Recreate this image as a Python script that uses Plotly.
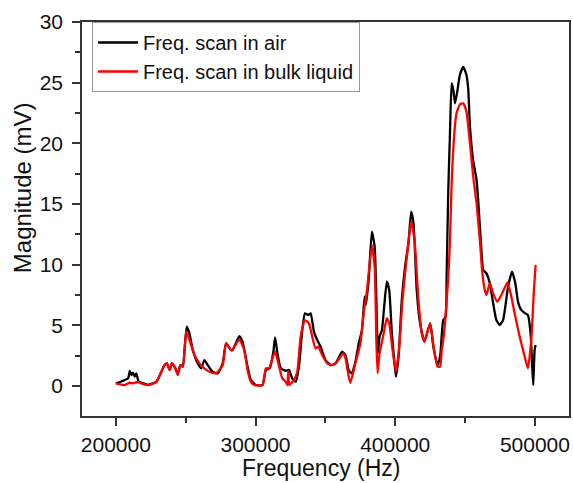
import plotly.graph_objects as go

# Frequency scan in air (black)
air_freq = [200000, 205200, 208800, 210000, 211200, 212300, 213500, 214700, 216400, 219500,
            223000, 229000, 234900, 236600, 238500, 240100, 242000, 244400, 246300, 248000,
            249200, 250800, 252700, 255100, 258600, 261100, 263400, 265800, 269300, 272900,
            276500, 278900, 282400, 283600, 288400, 290700, 294300, 296700, 300300, 305000,
            307400, 310200, 312800, 314000, 315700, 318100, 321600, 324000, 326300, 328800,
            331100, 333500, 335400, 337800, 339500, 341800, 344200, 346600, 350100, 353700,
            357300, 362000, 364400, 366700, 368700, 371500, 373900, 376200, 378100, 379000,
            381000, 383300, 385300, 386900, 387600, 388800, 390500, 392200, 394000, 395700,
            397600, 399500, 400500, 402400, 404700, 407200, 409500, 411400, 413100, 415400,
            417800, 420900, 425000, 427300, 430200, 432100, 434400, 436100, 436800, 438000,
            439200, 440400, 441600, 442800, 444600, 446300, 448700, 451000, 452300, 453500,
            455800, 458200, 459400, 461700, 463000, 465300, 467700, 470100, 472400, 474800,
            477200, 480800, 483600, 486000, 487900, 490200, 493100, 495000, 496900, 498100,
            498800, 499800, 500500]
air_mag = [0.22, 0.44, 0.63, 1.24, 0.9, 1.1, 0.77, 1.05, 0.35, 0.22,
           0.1, 0.35, 1.73, 1.87, 1.32, 1.87, 1.6, 1.05, 1.73, 1.6,
           2.97, 4.89, 4.34, 2.97, 1.87, 1.46, 2.14, 1.73, 1.18, 1.05,
           1.87, 3.52, 2.97, 2.97, 4.12, 3.65, 1.6, 0.5, 0.08, 0.08,
           1.32, 1.46, 2.83, 4.01, 2.69, 1.46, 1.26, 1.32, 0.63, 0.35,
           1.6, 4.62, 5.99, 5.85, 5.99, 4.48, 3.79, 3.24, 2.14, 1.73,
           1.87, 2.83, 2.56, 1.32, 1.05, 2.0, 3.52, 4.62, 7.36, 6.68,
           8.74, 12.72, 11.48, 5.17, 2.69, 4.07, 4.62, 6.68, 8.6, 7.91,
           4.34, 1.87, 0.77, 2.42, 7.09, 9.98, 11.76, 14.37, 13.41, 7.91,
           5.17, 3.65, 5.17, 3.24, 1.73, 2.42, 5.44, 5.71, 9.0, 16.2,
           20.8, 24.96, 24.4, 23.3, 24.4, 25.64, 26.3, 25.64, 24.4, 21.4,
           18.6, 17.0, 15.3, 11.2, 9.56, 9.29, 8.47, 6.82, 5.44, 5.03,
           5.44, 8.19, 9.42, 8.47, 6.95, 6.27, 5.99, 5.85, 4.34, 1.6,
           0.08, 2.97, 3.38]

# Frequency scan in bulk liquid (red)
liq_freq = [200000, 206400, 210000, 212300, 215900, 218300, 223000, 229000, 234900, 236600,
            238500, 240100, 242000, 244400, 246300, 248000, 250400, 252700, 256300, 259900,
            263400, 267000, 271800, 276500, 278900, 282400, 283600, 288400, 291900, 294300,
            296700, 299100, 305000, 307400, 309700, 312100, 314000, 316900, 319200, 321600,
            322800, 323500, 324200, 327600, 329900, 332300, 335400, 338200, 340600, 343000,
            344900, 347700, 351300, 354900, 358400, 362700, 364400, 366700, 367900, 371500,
            375100, 377400, 379800, 383300, 385300, 386500, 387400, 388800, 390500, 392200,
            394000, 395700, 398100, 400500, 402900, 405200, 408300, 411400, 413800, 416600,
            419000, 420900, 425000, 427300, 430300, 432100, 433300, 434400, 435600, 438000,
            439200, 440400, 442300, 443900, 446300, 448700, 451000, 453500, 455800, 458200,
            460600, 462400, 464100, 465300, 467700, 470100, 473100, 476000, 480300, 482600,
            485500, 489100, 492700, 495000, 497400, 499300, 500500]
liq_mag = [0.22, 0.08, 0.27, 0.22, 0.35, 0.22, 0.08, 0.35, 1.73, 1.87,
           1.32, 1.87, 1.6, 0.9, 1.73, 1.6, 4.48, 3.8, 2.56, 1.87,
           1.46, 1.18, 1.05, 1.73, 3.52, 2.97, 3.0, 3.85, 2.97, 1.32,
           0.35, 0.08, 0.08, 1.46, 1.46, 2.28, 2.83, 1.6, 0.63, 0.35,
           0.08, 1.2, 0.08, 0.5, 1.18, 4.07, 5.44, 5.17, 4.07, 3.1,
           3.24, 2.56, 1.87, 1.73, 2.0, 2.69, 2.28, 0.77, 0.27, 1.87,
           3.52, 5.99, 7.91, 11.62, 9.84, 3.8, 1.05, 2.69, 3.65, 4.62,
           5.58, 5.17, 2.97, 1.18, 3.24, 7.09, 10.66, 13.55, 12.04, 7.09,
           4.34, 3.65, 5.17, 3.4, 1.6, 1.6, 2.97, 3.8, 5.17, 9.0,
           12.0, 16.7, 20.8, 22.5, 23.2, 23.3, 22.6, 20.0, 17.3, 15.1,
           12.0, 9.29, 7.91, 7.5, 8.47, 7.64, 6.95, 7.5, 8.52, 7.64,
           5.99, 4.07, 2.42, 1.46, 3.8, 7.91, 9.98]

series_names = ["Freq. scan in air", "Freq. scan in bulk liquid"]
x_ticks = [200000, 300000, 400000, 500000]
y_ticks = [0, 5, 10, 15, 20, 25, 30]

FONT = "Liberation Sans, Arial, sans-serif"

fig = go.Figure()
fig.add_trace(go.Scatter(x=air_freq, y=air_mag, mode="lines", name=series_names[0],
                         line=dict(color="#000000", width=2.3, shape="spline", smoothing=0.5)))
fig.add_trace(go.Scatter(x=liq_freq, y=liq_mag, mode="lines", name=series_names[1],
                         line=dict(color="#ff0000", width=2.3, shape="spline", smoothing=0.5)))

axis_common = dict(showgrid=False, zeroline=False, showline=True, linecolor="#333333",
                   linewidth=1.5, mirror=True, ticks="outside", ticklen=8, tickwidth=1.5,
                   tickcolor="#333333", tickfont=dict(family=FONT, size=21, color="#111111"))

fig.update_xaxes(range=[175800, 524400], tickvals=x_ticks, ticktext=[str(v) for v in x_ticks],
                 minor=dict(ticks="outside", ticklen=5, dtick=50000, tick0=200000,
                            tickcolor="#333333", tickwidth=1.5),
                 ticklabelstandoff=1, **axis_common)
fig.update_yaxes(range=[-2.47, 30], tickvals=y_ticks, ticktext=[str(v) for v in y_ticks],
                 minor=dict(ticks="outside", ticklen=5, dtick=2.5, tick0=0,
                            tickcolor="#333333", tickwidth=1.5),
                 ticklabelstandoff=5, **axis_common)

fig.update_layout(
    width=573, height=483,
    margin=dict(l=82, r=2, t=22, b=67),
    plot_bgcolor="white", paper_bgcolor="white",
    font=dict(family=FONT, color="#111111"),
    showlegend=True,
    legend=dict(x=0.0204, y=1, xanchor="left", yanchor="top",
                bgcolor="white", bordercolor="#999999", borderwidth=1,
                font=dict(family=FONT, size=20, color="#111111"),
                tracegroupgap=0, itemwidth=40),
    annotations=[
        dict(text="Frequency (Hz)", xref="paper", yref="paper", x=0.4908, y=-0.133,
             xanchor="center", yanchor="middle", showarrow=False,
             font=dict(family=FONT, size=23, color="#111111")),
        dict(text="Magnitude (mV)", xref="paper", yref="paper", x=-0.1207, y=0.5787,
             xanchor="center", yanchor="middle", showarrow=False, textangle=-90,
             font=dict(family=FONT, size=24, color="#111111")),
    ],
)

fig.write_html("out.html")
